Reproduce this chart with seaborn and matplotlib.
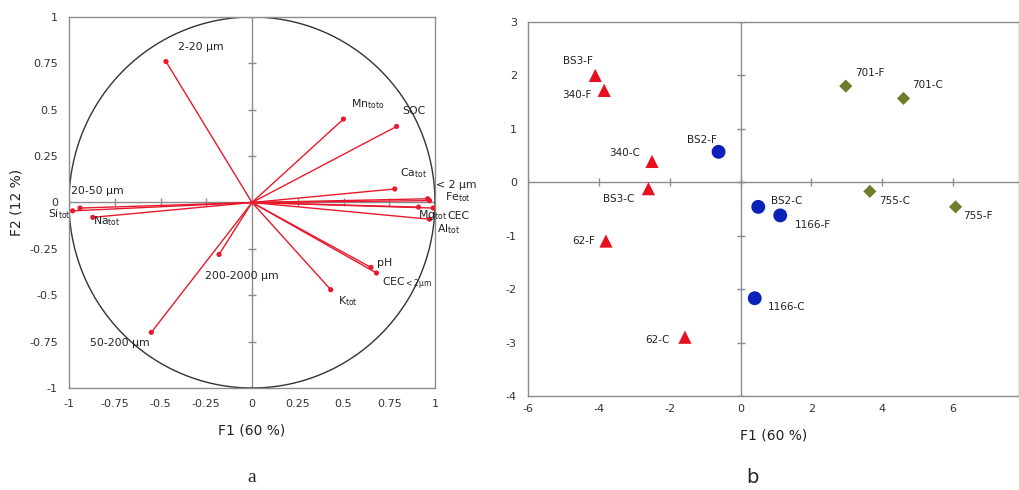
import numpy as np
import pandas as pd
import matplotlib
matplotlib.use("Agg")
import matplotlib.pyplot as plt
import seaborn as sns

# ---------------- data: panel a (loadings) ----------------
var_labels = ["2-20 µm", r"Mn$_{\mathrm{toto}}$", "SOC", r"Ca$_{\mathrm{tot}}$", "< 2 µm",
              r"Fe$_{\mathrm{tot}}$", "CEC", r"Mg$_{\mathrm{tot}}$", r"Al$_{\mathrm{tot}}$", "pH",
              r"CEC$_{\mathrm{<2µm}}$", r"K$_{\mathrm{tot}}$", "200-2000 µm", "50-200 µm",
              "20-50 µm", r"Si$_{\mathrm{tot}}$", r"Na$_{\mathrm{tot}}$"]
var_f1 = [-0.47, 0.50, 0.79, 0.78, 0.96, 0.97, 0.99, 0.91, 0.97, 0.65, 0.68, 0.43, -0.18, -0.55, -0.94, -0.98, -0.87]
var_f2 = [0.76, 0.45, 0.41, 0.073, 0.02, 0.01, -0.03, -0.025, -0.09, -0.35, -0.38, -0.47, -0.28, -0.70, -0.03, -0.045, -0.08]
# label offsets (pixels)
var_dx = [12, 7, 6, 5, 8, 15, 14, -1, 7, 6, 6, 7, -14, -61, -9, -25, 0]
var_dy = [15, 15, 15, 16, 14, 4, -8, -8, -10, 4, -11, -11, -22, -11, 17, -3, -4]
var_ha = ["left"] * 17

axis_ticks_a = [-1, -0.75, -0.5, -0.25, 0, 0.25, 0.5, 0.75, 1]
axis_ticklabels_a = ["-1", "-0.75", "-0.5", "-0.25", "0", "0.25", "0.5", "0.75", "1"]

# ---------------- data: panel b (scores) ----------------
sample_names = ["BS3-F", "340-F", "340-C", "BS3-C", "62-F", "62-C",
                "BS2-F", "BS2-C", "1166-F", "1166-C",
                "701-F", "701-C", "755-C", "755-F"]
sample_group = ["red"] * 6 + ["blue"] * 4 + ["olive"] * 4
sample_f1 = [-4.1, -3.85, -2.5, -2.6, -3.8, -1.57, -0.62, 0.5, 1.12, 0.4, 2.97, 4.6, 3.65, 6.07]
sample_f2 = [2.0, 1.72, 0.39, -0.12, -1.1, -2.9, 0.57, -0.46, -0.62, -2.17, 1.80, 1.57, -0.17, -0.46]
sample_dx = [-2, -13, -12, -14, -11, -15, -2, 13, 15, 13, 9, 9, 9, 8]
sample_dy = [14, -5, 8, -10, 0, -3, 12, 6, -10, -9, 13, 13, -10, -9]
sample_ha = ["right"] * 7 + ["left"] * 7

xticks_b = [-6, -4, -2, 0, 2, 4, 6]
yticks_b = [-4, -3, -2, -1, 0, 1, 2, 3]

# ---------------- figure ----------------
sns.set_style("white")
plt.rcParams["font.family"] = ["DejaVu Sans"]
plt.rcParams["axes.unicode_minus"] = False
fig = plt.figure(figsize=(10.19, 4.90), dpi=100)

W, H = 1019, 490
def pos(l, r, t, b):
    return [l / W, 1 - b / H, (r - l) / W, (b - t) / H]

frame_col = "#8c8c8c"
tick_col = "#333333"
red = "#e8192c"

# ---- panel a ----
axa = fig.add_axes(pos(69, 435, 17, 388))
axa.set_xlim(-1, 1)
axa.set_ylim(-1, 1)
for s in axa.spines.values():
    s.set_color(frame_col)
    s.set_linewidth(1.0)
axa.axhline(0, color=frame_col, lw=1.0, zorder=1)
axa.axvline(0, color=frame_col, lw=1.0, zorder=1)
axa.plot([0] * len(axis_ticks_a), axis_ticks_a, ls="none", marker="_", ms=6, color=frame_col, zorder=1)
axa.plot(axis_ticks_a, [0] * len(axis_ticks_a), ls="none", marker="|", ms=6, color=frame_col, zorder=1)

th = np.linspace(0, 2 * np.pi, 400)
axa.plot(np.cos(th), np.sin(th), color="#333333", lw=1.0, zorder=2)

for x, y in zip(var_f1, var_f2):
    axa.plot([0, x], [0, y], color=red, lw=1.0, zorder=3)
dfa = pd.DataFrame({"F1": var_f1, "F2": var_f2})
sns.scatterplot(data=dfa, x="F1", y="F2", ax=axa, color=red, s=14, edgecolor="none", zorder=4, legend=False)
for lab, x, y, dx, dy, ha in zip(var_labels, var_f1, var_f2, var_dx, var_dy, var_ha):
    axa.annotate(lab, (x, y), xytext=(dx, dy), textcoords="offset pixels",
                 ha=ha, va="center", fontsize=7.8, color="#222222", zorder=5)

axa.set_xticks(axis_ticks_a)
axa.set_xticklabels(axis_ticklabels_a)
axa.set_yticks(axis_ticks_a)
axa.set_yticklabels(axis_ticklabels_a)
axa.tick_params(length=0, labelsize=8, colors=tick_col, pad=8)
axa.set_xlabel("F1 (60 %)", fontsize=10, color="#222222", labelpad=10)
axa.set_ylabel("F2 (12 %)", fontsize=10, color="#222222", labelpad=4)
fig.text(252 / W, 1 - 477 / H, "a", fontsize=14, family="Liberation Serif", ha="center", va="center")

# ---- panel b ----
axb = fig.add_axes(pos(528, 1019, 22, 396))
axb.set_xlim(-6, 7.86)
axb.set_ylim(-4, 3)
for s in axb.spines.values():
    s.set_color(frame_col)
    s.set_linewidth(1.0)
axb.axhline(0, color=frame_col, lw=1.0, zorder=1)
axb.axvline(0, color=frame_col, lw=1.0, zorder=1)
axb.plot([0] * len(yticks_b), yticks_b, ls="none", marker="_", ms=6, color=frame_col, zorder=1)
axb.plot(xticks_b, [0] * len(xticks_b), ls="none", marker="|", ms=6, color=frame_col, zorder=1)

dfb = pd.DataFrame({"F1": sample_f1, "F2": sample_f2, "group": sample_group})
palette = {"red": "#e8101e", "blue": "#0a22b8", "olive": "#6f7d2c"}
markers = {"red": "^", "blue": "o", "olive": "D"}
sizes = {"red": 90, "blue": 100, "olive": 45}
for g in ["red", "blue", "olive"]:
    sub = dfb[dfb["group"] == g]
    sns.scatterplot(data=sub, x="F1", y="F2", ax=axb, color=palette[g], marker=markers[g],
                    s=sizes[g], edgecolor="none", zorder=4, legend=False)
for lab, x, y, dx, dy, ha in zip(sample_names, sample_f1, sample_f2, sample_dx, sample_dy, sample_ha):
    axb.annotate(lab, (x, y), xytext=(dx, dy), textcoords="offset pixels",
                 ha=ha, va="center", fontsize=7.5, color="#222222", zorder=5)

axb.set_xticks(xticks_b)
axb.set_yticks(yticks_b)
axb.tick_params(axis="x", length=0, labelsize=8, colors=tick_col, pad=6)
axb.tick_params(axis="y", length=0, labelsize=8, colors=tick_col, pad=8)
axb.set_xlabel("F1 (60 %)", fontsize=10, color="#222222", labelpad=10)
axb.set_ylabel("")
fig.text(752 / W, 1 - 477 / H, "b", fontsize=14, ha="center", va="center")

fig.savefig("out.png", dpi=100)
